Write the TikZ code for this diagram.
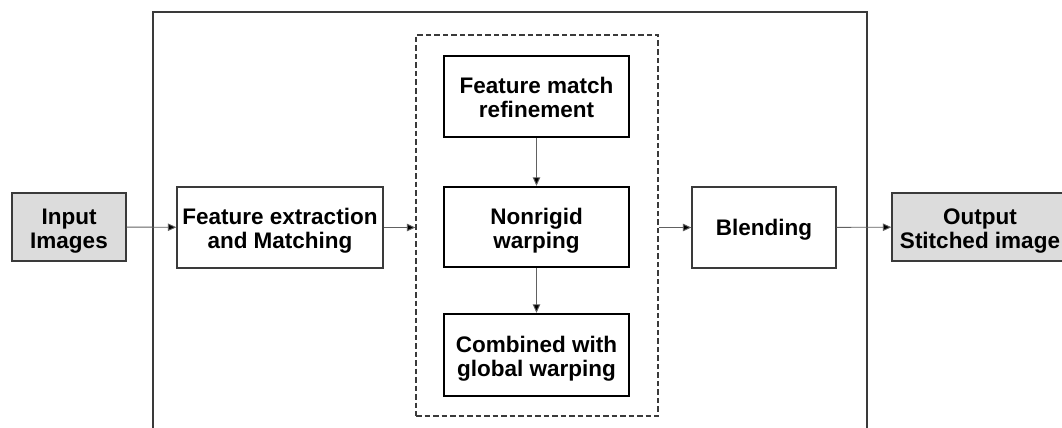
\documentclass[tikz,border=0pt]{standalone}
\usepackage{fontspec}
\setmainfont{Liberation Sans}
\usetikzlibrary{arrows.meta}
\definecolor{boxgray}{HTML}{DCDCDC}
\definecolor{linegray}{HTML}{3A3A3A}
\newcommand{\twolines}[2]{\raisebox{-4.5pt}[\height][\depth]{\begin{tabular}{@{}c@{}}#1\\#2\end{tabular}}}
\tikzset{
  lbl/.style={font=\fontsize{22.5}{24}\selectfont\bfseries, align=center, inner sep=0pt, text=black},
  iobox/.style={lbl, draw=linegray, line width=1.3pt, fill=boxgray},
  plainbox/.style={lbl, draw=linegray, line width=1.3pt, fill=white},
  thickbox/.style={lbl, draw=black, line width=2.4pt, fill=white},
  groupbox/.style={draw=linegray, line width=1.3pt, dash pattern=on 5.5pt off 3pt, inner sep=0pt},
  flow/.style={draw=linegray!80, line width=0.9pt, -{Triangle[length=8.5pt,width=7.5pt,fill=black]}},
}
\begin{document}
\begin{tikzpicture}[x=1pt,y=-1pt]
\useasboundingbox (0,0) rectangle (1062,428);
% outer frame, open at bottom
\draw[draw=linegray, line width=1.3pt] (153,430) -- (153,12) -- (867,12) -- (867,430);
% dashed group
\node[groupbox, minimum width=242pt, minimum height=381pt] (grp) at (537,225.5) {};
% nodes
\node[iobox, minimum width=114pt, minimum height=68pt] (in) at (69,227) {\twolines{Input}{Images}};
\node[plainbox, minimum width=206pt, minimum height=81pt] (fe) at (280,227.5) {\twolines{Feature extraction}{and Matching}};
\node[thickbox, minimum width=185pt, minimum height=81pt] (fm) at (536.5,96.5) {\twolines{Feature match}{refinement}};
\node[thickbox, minimum width=185pt, minimum height=80pt] (nw) at (536.5,227) {\twolines{Nonrigid}{warping}};
\node[thickbox, minimum width=185pt, minimum height=82pt] (cg) at (536.5,355) {\twolines{Combined with}{global warping}};
\node[plainbox, minimum width=144pt, minimum height=81pt] (bl) at (764,227.5) {\raisebox{-2pt}[\height][\depth]{Blending}};
\node[iobox, minimum width=176pt, minimum height=68pt] (out) at (980,227) {\twolines{Output}{Stitched image}};
% connectors
\draw[flow] (in) -- (fe);
\draw[flow] (fe) -- (fe -| grp.west);
\draw[flow] (bl -| grp.east) -- (bl);
\draw[flow] (bl) -- (out);
\draw[flow] (fm) -- (nw);
\draw[flow] (nw) -- (cg);
\end{tikzpicture}
\end{document}
